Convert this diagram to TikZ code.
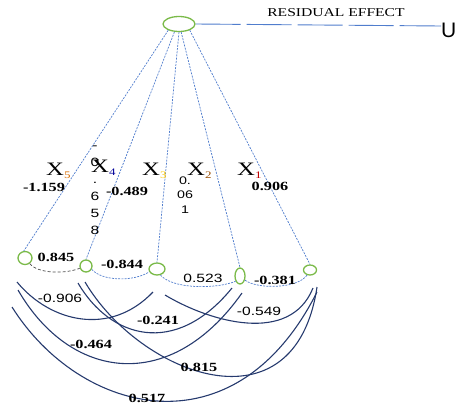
\documentclass[tikz,border=0pt]{standalone}
\usepackage{fontspec}
\setmainfont[FakeStretch=1.3]{Liberation Serif}
\setsansfont[FakeStretch=1.3]{Liberation Sans}
\newfontfamily\plainsans{Liberation Sans}
\usetikzlibrary{shapes.geometric}
\definecolor{pathblue}{RGB}{80,125,205}
\definecolor{corrnavy}{RGB}{38,58,110}
\definecolor{ringgreen}{RGB}{122,186,72}
\newcommand{\xvar}[2]{X\raisebox{-3pt}{\fontsize{10}{10}\selectfont\textcolor{#2}{#1}}}

\begin{document}
\begin{tikzpicture}[x=1pt,y=-1pt,
    var/.style={draw=ringgreen,line width=1.3pt,ellipse,inner sep=0pt},
    pathline/.style={pathblue,line width=0.7pt,dash pattern=on 2pt off 1.2pt},
    corr/.style={corrnavy,line width=1.1pt},
    coef/.style={font=\fontsize{12.5}{12.5}\selectfont\bfseries,inner sep=0pt},
    coefsf/.style={font=\sffamily\fontsize{12}{12}\selectfont,inner sep=0pt},
    xlab/.style={font=\fontsize{19}{19}\selectfont,inner sep=0pt,anchor=base west}]
    \useasboundingbox (0,0) rectangle (457,407);

    % residual
    \node [var,minimum width=32pt,minimum height=15pt] (top) at (179,24) {};
    \node [font=\plainsans\fontsize{21}{21}\selectfont,anchor=west,inner sep=0pt] (u) at (441,30) {U};
    \node [font=\fontsize{12}{12}\selectfont,inner sep=0pt] (res) at (336,13) {RESIDUAL EFFECT};
    \draw [pathblue,line width=0.9pt,dash pattern=on 45pt off 6pt] (top.east) -- ([shift={(0,-4)}]u.west);

    % variables
    \node [var,minimum width=14pt,minimum height=13pt] (x5) at (25,258) {};
    \node [var,minimum width=12pt,minimum height=12pt] (x4) at (86,266) {};
    \node [var,minimum width=16pt,minimum height=12pt] (x3) at (157,269) {};
    \node [var,minimum width=10pt,minimum height=16pt] (x2) at (240,276) {};
    \node [var,minimum width=13pt,minimum height=10pt] (x1) at (310,270) {};

    \draw [pathline] (top.210) -- (x5.100);
    \draw [pathline] (top.240) -- (x4.north);
    \draw [pathline] (top.270) -- (x3.north);
    \draw [pathline] (top.285) -- (x2.north);
    \draw [pathline] (top.330) -- (x1.north);

    \node [xlab] (l5) at (46,175) {\xvar{5}{orange!85!black}};
    \node [xlab] (l4) at (91,172) {\xvar{4}{blue!60!black}};
    \node [xlab] (l3) at (142,175) {\xvar{3}{yellow!60!orange}};
    \node [xlab] (l2) at (187,175) {\xvar{2}{orange!60!black}};
    \node [xlab] (l1) at (237,175) {\xvar{1}{red!75!black}};

    % direct effects
    \node [coef] (p5) at (44,187) {-1.159};
    \node [coefsf,align=center,anchor=north,font=\sffamily\fontsize{12}{17}\selectfont] (p4) at (95,146) {-\\0\\.\\6\\5\\8};
    \node [coef] (p3) at (127,191) {-0.489};
    \node [coefsf,align=center,font=\sffamily\fontsize{11}{14.5}\selectfont] (p2) at (185,195) {0.\\06\\1};
    \node [coef] (p1) at (270,186) {0.906};

    % neighbour correlations
    \draw [black!70,line width=0.7pt,dash pattern=on 3pt off 2pt] (x5.-50) .. controls +(8,10) and +(-15,6) .. (x4.200);
    \draw [pathline] (x4.-30) .. controls +(10,12) and +(-15,10) .. (x3.200);
    \draw [pathline] (x3.-60) .. controls +(12,14) and +(-20,8) .. (x2.230);
    \draw [pathline] (x2.-40) .. controls +(12,9) and +(-10,14) .. (x1.-120);
    \node [coef] (r54) at (56,257) {0.845};
    \node [coef] (r43) at (122,264) {-0.844};
    \node [coefsf] (r32) at (203,278) {0.523};
    \node [coef] (r21) at (275,280) {-0.381};

    % other correlations
    \draw [corr] ([shift={(-8,24)}]x5.center) .. controls (50,322) and (110,337) .. ([shift={(-4,23)}]x3.center);
    \draw [corr] ([shift={(-7,32)}]x5.center) .. controls (70,380) and (170,395) .. ([shift={(2,17)}]x2.center);
    \draw [corr] ([shift={(-13,49)}]x5.center) .. controls (80,415) and (235,455) .. ([shift={(7,22)}]x1.center);
    \draw [corr] ([shift={(-8,17)}]x4.center) .. controls (110,338) and (175,358) .. ([shift={(-8,12)}]x2.center);
    \draw [corr] ([shift={(-1,16)}]x4.center) .. controls (140,375) and (295,435) .. ([shift={(7,17)}]x1.center);
    \draw [corr] ([shift={(8,26)}]x3.center) .. controls (210,322) and (290,345) .. ([shift={(3,18)}]x1.center);
    \node [coefsf] (r53) at (60,298) {-0.906};
    \node [coef] (r42) at (158,320) {-0.241};
    \node [coefsf] (r31) at (259,311) {-0.549};
    \node [coef] (r52) at (91,344) {-0.464};
    \node [coef] (r41) at (199,367) {0.815};
    \node [coef] (r51) at (147,398) {0.517};
\end{tikzpicture}
\end{document}
